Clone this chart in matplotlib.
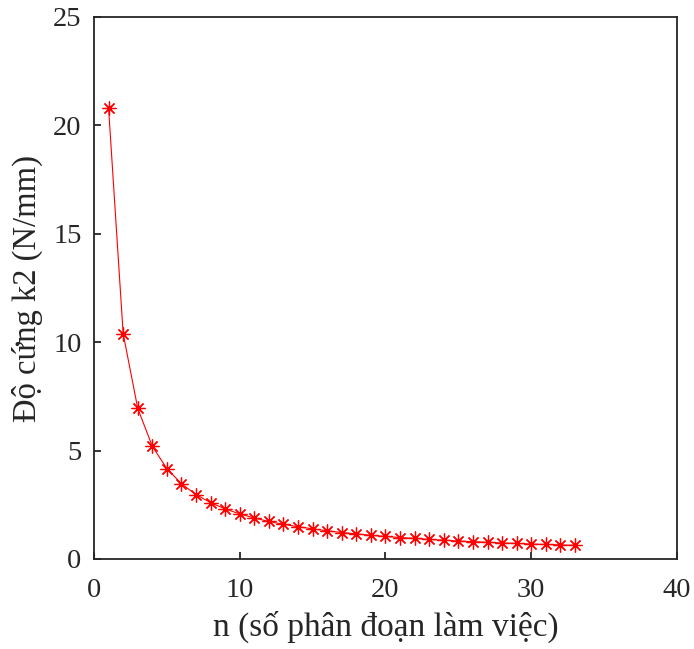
import numpy as np
import matplotlib as mpl
mpl.use('Agg')
import matplotlib.pyplot as plt

# data
n = list(range(1, 34))
k2 = [20.8, 10.4, 6.95, 5.2, 4.17, 3.47, 2.97, 2.6, 2.31, 2.08,
      1.89, 1.73, 1.6, 1.49, 1.39, 1.3, 1.22, 1.16, 1.09, 1.04,
      0.99, 0.95, 0.9, 0.87, 0.83, 0.8, 0.77, 0.74, 0.72, 0.69,
      0.67, 0.65, 0.63]

xticks = [0, 10, 20, 30, 40]
yticks = [0, 5, 10, 15, 20, 25]

plt.rc('font', family=['Liberation Serif', 'DejaVu Serif'])

fig = plt.figure(figsize=(6.94, 6.49), dpi=100)
ax = fig.add_axes([94/694, 1-559/649, (677-94)/694, (559-17)/649])

ax.plot(n, k2, color='red', lw=0.8,
        marker=(8, 2, 0), markersize=10, markeredgewidth=0.9,
        markeredgecolor='red')

ax.set_xlim(0, 40)
ax.set_ylim(0, 25)
ax.set_xticks(xticks)
ax.set_yticks(yticks)

edge = '#262626'
for s in ax.spines.values():
    s.set_color(edge)
    s.set_linewidth(1.3)
ax.tick_params(direction='in', length=5, width=1.3, color=edge,
               labelcolor=edge, pad=9, labelsize=20.5)
ax.tick_params(axis='x', pad=14)

ax.set_xlabel('n (số phân đoạn làm việc)', fontsize=24, color=edge, labelpad=5)
ax.set_ylabel('Độ cứng k2 (N/mm)', fontsize=23.5, color=edge, labelpad=7)

fig.savefig('out.png', dpi=100)
plt.close('all')
